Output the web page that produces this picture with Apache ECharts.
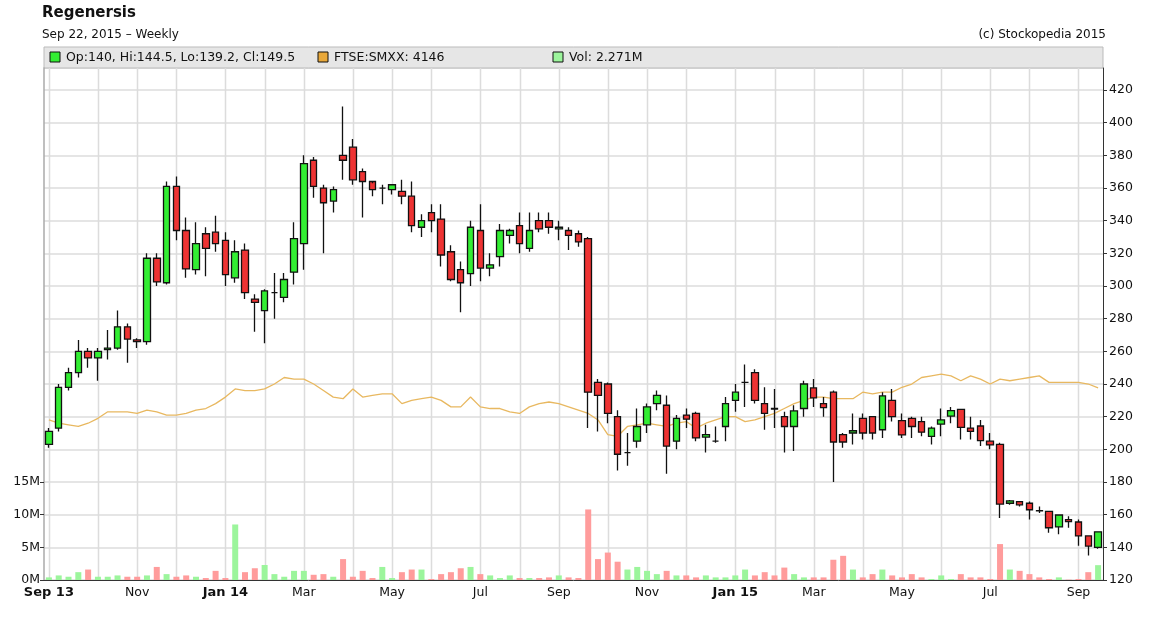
<!DOCTYPE html>
<html><head><meta charset="utf-8">
<script src="https://cdn.jsdelivr.net/npm/echarts@6/dist/echarts.min.js"></script>
<style>html,body{margin:0;padding:0;background:#fff}#c{width:1153px;height:628px}</style>
</head><body><div id="c"></div>
<script>
// weekly categories starting Mon 2 Sep 2013
const startDate = [2013, 8, 2];
const weekCount = 108;
// [open, close, low, high]
const ohlc = [
[203,211,201,213],[213,238,211,240],[238,247,236,250],[247,260,244,267],[260,256,250,262],
[256,260,242,262],[261,262,255,273],[262,275,261,285],[275,267.5,253,277],[267,266,262,268],
[266,317,264,320],[317,302.5,300,320],[302,361,301,364],[361,334,328,367],[334,310.5,305,342],
[310,326,307,339],[332,323,306,336],[333,326,321,343],[328,307,300,333],[305,321,302,328],
[322,296,292,326],[292,290,272,295],[285,297,265,298],[296,296,280,308],[293,304,290,308],
[308.5,329,301,339],[326,375,310,380],[377,361,354,379],[360,351,320,362],[352,359,345,361],
[380,377,365,410],[385,365,362,390],[370,364,342,372],[364,359,355,363],[360,360,350,362],
[359,362,356,362],[358,355,350,365],[355,337,333,364],[336,340,330,344],[345,340,333,350],
[341,319,312,350],[321,304,303,325],[310,302,284,315],[307.6,336,300,340],[334,311,303,350],
[311,313,306,320],[318,334,312,338],[331,334,326,335],[337,326,320,345],[323,334,321,345],
[340,335,333,345],[340,336,332,345],[335,336,328,340],[334,331,322,336],[332,327,324,334],
[329,235,213,330],[241,233,211,243],[240,222,216,241],[220,197,187,224],[198,198,190,210],
[205,214,201,225],[215,226,210,228],[228,233,224,236],[227,202,185,233],[205,219,200,221],
[221,218.5,213,225],[222,207,205,223],[207.5,209,198,215],[205,205,204,214],[214,228,205,232],
[230,235,223,240],[241,241,226,252],[247,230,228,249],[228,222,212,238],[225,224.7,213,237],
[220,214,198,223],[214,223.5,199,227],[225,240,220,242],[237.6,231.5,226,243],[228,225.5,220,232],
[235,204.5,180,236],[209,204.5,201,210],[210,211.4,203,222],[219,210,206,222],[220,210,206,220],
[212,232.7,207,235],[230,220,217,237],[217.6,208.8,207,222],[219,214,207,220],[217,210.5,208,220],
[208,213,203,214],[215.5,218,208,225],[220.4,223.7,216,226],[224.5,213.5,206,224.5],[213,211,206,220],
[214.3,205.3,202,218],[205,202.7,200,210],[203,166.5,158,204],[167,168.4,166,169],[168,166,165,168],
[167,163,157,168],[162.5,162.4,161,165],[162,152,149,162],[152.5,159.8,148,160],[157,155.7,152,159],
[155.5,147,141,157],[147,140.8,135,147],[140,149.5,139.2,149.5]
];
// volume in millions
const volume = [
0.4,0.7,0.5,1.2,1.6,0.5,0.5,0.7,0.5,0.5,0.7,2.0,0.9,0.5,0.7,0.5,0.3,1.4,0.3,8.5,
1.2,1.8,2.3,0.9,0.5,1.4,1.4,0.8,0.9,0.5,3.2,0.5,1.4,0.3,2.0,0.3,1.2,1.6,1.6,0.15,
0.9,1.2,1.8,2.0,0.9,0.7,0.3,0.7,0.3,0.3,0.3,0.4,0.7,0.4,0.3,10.8,3.2,4.2,2.8,1.6,
2.0,1.4,0.9,1.4,0.7,0.7,0.4,0.7,0.4,0.4,0.7,1.6,0.7,1.2,0.7,1.9,0.9,0.4,0.4,0.4,
3.1,3.7,1.6,0.4,0.9,1.6,0.7,0.4,0.9,0.4,0.15,0.7,0.15,0.9,0.4,0.4,0.15,5.5,1.6,1.4,
0.9,0.4,0.15,0.4,0.05,0.15,1.2,2.271
];
// FTSE SmallCap line, expressed on the price scale as drawn
const ftseScaled = [
218,216,215,214,216,219,223,223,223,222,224,223,221,221,222,224,225,228,232,237,
236,236,237,240,244,243,243,240,236,232,231,237,232,233,234,234,228,230,231,232,
230,226,226,232,226,225,225,223,222,226,228,229,228,226,224,222,218,209,208,214,
215,216,215,214,216,217,213,216,218,220,220,217,218,220,222,225,228,230,232,232,
231,231,231,235,234,235,235,238,240,244,245,246,245,242,245,243,240,243,242,243,
244,245,241,241,241,241,240,237.6
];
const priceTicks = [120,140,160,180,200,220,240,260,280,300,320,340,360,380,400,420];
const volTickValues = [0,5,10,15];
const volTicks = ['0M','5M','10M','15M'];
const monthNames = ['Jan','Feb','Mar','Apr','May','Jun','Jul','Aug','Sep','Oct','Nov','Dec'];

const dates = [];
for (let i = 0; i < weekCount; i++) {
  dates.push(new Date(Date.UTC(startDate[0], startDate[1], startDate[2] + 7 * i)));
}
const cats = dates.map(d => d.toISOString().slice(0,10));
const isMonthStart = i => dates[i].getUTCDate() <= 7;
const isLabel = i => isMonthStart(i) && (dates[i].getUTCMonth() % 2 === 0);

const volData = volume.map((v, i) => ({
  value: v,
  itemStyle: { color: ohlc[i][1] >= ohlc[i][0] ? '#9cf59c' : '#ff9c9c' }
}));

const FONT = 'DejaVu Sans';
const headerGraphics = [
  { type: 'text', left: 42, top: 6, style: { text: 'Regenersis', fontFamily: FONT, fontWeight: 'bold', fontSize: 15, fill: '#111' } },
  { type: 'text', left: 42, top: 29, style: { text: 'Sep 22, 2015 \u2013 Weekly', fontFamily: FONT, fontSize: 12, fill: '#111' } },
  { type: 'text', right: 47, top: 29, style: { text: '(c) Stockopedia 2015', fontFamily: FONT, fontSize: 12, fill: '#111' } },
  { type: 'rect', shape: { x: 44, y: 47, width: 1059, height: 21 }, style: { fill: '#e6e6e6', stroke: '#bbb' } },
  { type: 'rect', shape: { x: 50, y: 52, width: 10, height: 10 }, style: { fill: '#33ee33', stroke: '#111' } },
  { type: 'text', x: 66, y: 51, style: { text: 'Op:140, Hi:144.5, Lo:139.2, Cl:149.5', fontFamily: FONT, fontSize: 12.5, fill: '#111' } },
  { type: 'rect', shape: { x: 318, y: 52, width: 10, height: 10 }, style: { fill: '#e8a83a', stroke: '#111' } },
  { type: 'text', x: 334, y: 51, style: { text: 'FTSE:SMXX: 4146', fontFamily: FONT, fontSize: 12.5, fill: '#111' } },
  { type: 'rect', shape: { x: 553, y: 52, width: 10, height: 10 }, style: { fill: '#9cf59c', stroke: '#111' } },
  { type: 'text', x: 569, y: 51, style: { text: 'Vol: 2.271M', fontFamily: FONT, fontSize: 12.5, fill: '#111' } }
];

const chart = echarts.init(document.getElementById('c'));
chart.setOption({
  animation: false,
  backgroundColor: '#fff',
  grid: { left: 44, right: 50, top: 68, bottom: 48 },
  xAxis: {
    type: 'category', data: cats, boundaryGap: true,
    axisLine: { lineStyle: { color: '#333' } },
    axisTick: { interval: (i) => isLabel(i), length: 4, lineStyle: { color: '#333' }, alignWithLabel: true },
    splitLine: { show: false },
    axisLabel: {
      interval: (i) => isLabel(i), fontFamily: FONT, fontSize: 12.5, color: '#111', margin: 6,
      formatter: (v, i) => {
        const d = dates[i];
        const m = d.getUTCMonth();
        if (i === 0 || m === 0) return '{b|' + monthNames[m] + ' ' + String(d.getUTCFullYear()).slice(2) + '}';
        return monthNames[m];
      },
      rich: { b: { fontWeight: 'bold', fontFamily: FONT, fontSize: 13, color: '#111' } }
    }
  },
  yAxis: [
    {
      type: 'value', position: 'right', min: 120, max: 433.5, interval: 20,
      axisLine: { show: true, onZero: false, lineStyle: { color: '#333' } },
      axisTick: { show: true, length: 4, lineStyle: { color: '#333' } },
      splitLine: { lineStyle: { color: '#dcdcdc', width: 1.5 } },
      axisLabel: { fontFamily: FONT, fontSize: 12.5, color: '#111', margin: 6, showMaxLabel: false,
        formatter: v => priceTicks.indexOf(v) >= 0 ? String(v) : '' }
    },
    {
      type: 'value', position: 'left', min: 0, max: 78.375,
      axisLine: { show: true, onZero: false, lineStyle: { color: '#aaa', width: 1.5 } },
      axisTick: { show: true, length: 4, customValues: volTickValues, lineStyle: { color: '#333' } },
      splitLine: { show: false },
      axisLabel: { fontFamily: FONT, fontSize: 12.5, color: '#111', margin: 4, customValues: volTickValues,
        formatter: v => { const k = volTickValues.indexOf(v); return k >= 0 ? volTicks[k] : ''; } }
    }
  ],
  series: [
    { type: 'bar', yAxisIndex: 1, data: volData, barWidth: 6, z: 2 },
    { type: 'line', yAxisIndex: 0, data: ftseScaled, symbol: 'none', lineStyle: { color: '#e8b860', width: 1.3 }, z: 3 },
    { type: 'candlestick', yAxisIndex: 0, data: ohlc, barWidth: 7, z: 4,
      itemStyle: { color: '#33ee33', color0: '#ee3333', borderColor: '#111', borderColor0: '#111', borderWidth: 1.3 } }
  ],
  graphic: headerGraphics
});

// vertical monthly gridlines, positioned through the chart's own x scale
const yTop = chart.convertToPixel({ yAxisIndex: 0 }, 433.5);
const yBot = chart.convertToPixel({ yAxisIndex: 0 }, 120);
const gridLines = [];
for (let i = 0; i < weekCount; i++) {
  if (!isMonthStart(i)) continue;
  const x = Math.round(chart.convertToPixel({ xAxisIndex: 0 }, cats[i])) + 0.5;
  gridLines.push({ type: 'line', silent: true, z: 0, zlevel: 0,
    shape: { x1: x, y1: yTop, x2: x, y2: yBot }, style: { stroke: '#dcdcdc', lineWidth: 1.5 } });
}
chart.setOption({ graphic: headerGraphics.concat(gridLines) }, { replaceMerge: ['graphic'] });
</script></body></html>
